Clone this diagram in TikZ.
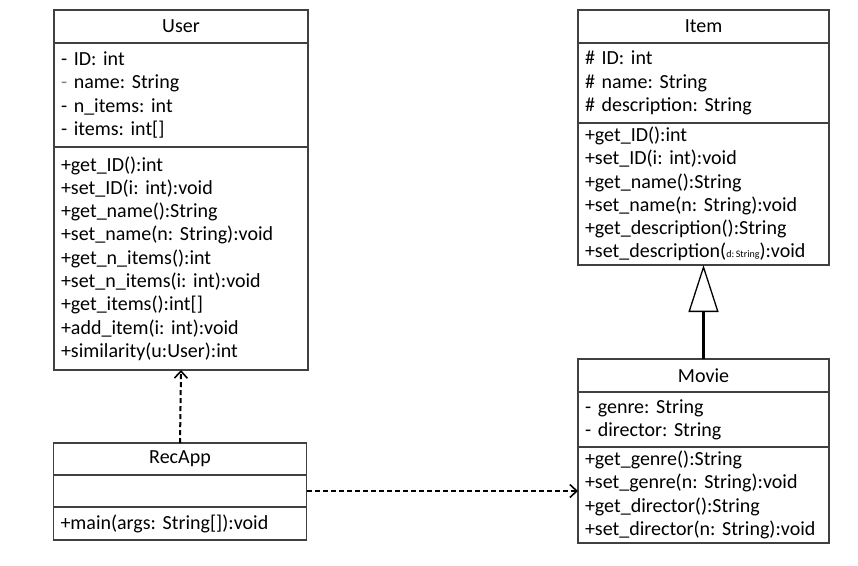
\documentclass[tikz,border=0pt]{standalone}
\usepackage{fontspec}
\setmainfont{Carlito}
\usetikzlibrary{positioning,arrows.meta}
\definecolor{umlline}{HTML}{404040}

\begin{document}
\begin{tikzpicture}[x=1pt,y=-1pt,
 part/.style={draw=umlline,line width=1.2pt,outer sep=0pt,inner ysep=0pt,inner xsep=7pt,
   align=left,font=\fontsize{20}{23.3}\selectfont\frenchspacing},
 title/.style={part,align=center,anchor=north},
 userbox/.style={text width=240pt},
 itembox/.style={text width=237pt},
 appbox/.style={text width=239pt},
 dep/.style={-{Straight Barb[length=7pt,width=13pt,line width=1.6pt]},line width=2pt,dash pattern=on 5pt off 3pt},
 gen/.style={-{Triangle[open,length=47pt,width=30pt,line width=1.3pt]},line width=3pt}]
\useasboundingbox (0,0) rectangle (858,565);
% User class
\node[title,userbox,minimum height=33pt] (user) at (181,10) {User};
\node[part,userbox,minimum height=104pt,below=0pt of user] (user-attr)
  {- ID: int\\{\color{gray}-} name: String\\- n\_items: int\\- items: int[]};
\node[part,userbox,minimum height=223pt,below=0pt of user-attr] (user-ops)
  {+get\_ID():int\\+set\_ID(i: int):void\\+get\_name():String\\
   +set\_name(n: String):void\\+get\_n\_items():int\\+set\_n\_items(i: int):void\\
   +get\_items():int[]\\+add\_item(i: int):void\\+similarity(u:User):int};
% RecApp class
\node[title,appbox,minimum height=32pt] (recapp) at (180,443) {RecApp};
\node[part,appbox,minimum height=32pt,below=0pt of recapp] (recapp-attr) {};
\node[part,appbox,minimum height=33pt,below=0pt of recapp-attr] (recapp-ops)
  {+main(args: String[]):void};
% Item class
\node[title,itembox,minimum height=33pt] (item) at (703.5,10) {Item};
\node[part,itembox,minimum height=80pt,below=0pt of item] (item-attr)
  {\# ID: int\\\# name: String\\\# description: String};
\node[part,itembox,minimum height=142pt,below=0pt of item-attr] (item-ops)
  {+get\_ID():int\\+set\_ID(i: int):void\\+get\_name():String\\
   +set\_name(n: String):void\\+get\_description():String\\
   +set\_description({\fontsize{10}{10}\selectfont d:\,String}):void};
% Movie class
\node[title,itembox,minimum height=33pt] (movie) at (703.5,359) {Movie};
\node[part,itembox,minimum height=55pt,below=0pt of movie] (movie-attr)
  {- genre: String\\- director: String};
\node[part,itembox,minimum height=96pt,below=0pt of movie-attr] (movie-ops)
  {+get\_genre():String\\+set\_genre(n: String):void\\
   +get\_director():String\\+set\_director(n: String):void};
% relations
\draw[dep] (recapp.north) -- (user-ops.south);
\draw[dep] (recapp-attr.east) -- (recapp-attr.east -| movie-ops.west);
\draw[gen] (movie.north) -- (item-ops.south);
\end{tikzpicture}
\end{document}
